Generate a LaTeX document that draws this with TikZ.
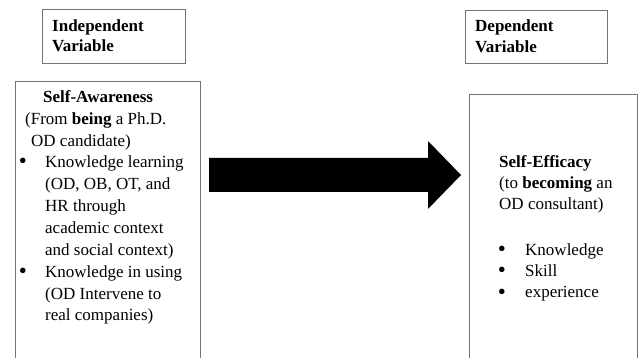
\documentclass[tikz,border=0pt]{standalone}
\usepackage{fontspec}
\setmainfont{Liberation Serif}
\definecolor{boxgray}{RGB}{115,115,115}
\begin{document}
\begin{tikzpicture}[x=1pt,y=-1pt,
  frame/.style={draw=boxgray, line width=1pt},
  label/.style={anchor=base west, inner sep=0pt, font=\fontsize{17}{21.6}\selectfont},
  dot/.style={anchor=base, inner sep=0pt, font=\fontsize{23}{21.6}\selectfont}]
\useasboundingbox (0,0) rectangle (643,358);
\clip (0,0) rectangle (643,358);

% header boxes
\node[frame, anchor=north west, minimum width=143pt, minimum height=54pt, inner sep=0pt] (indep) at (42,9) {};
\node[frame, anchor=north west, minimum width=142pt, minimum height=53pt, inner sep=0pt] (dep) at (465,10) {};
\node[label] (indepA) at (52,32) {\textbf{Independent}};
\node[label] (indepB) at (52,52) {\textbf{Variable}};
\node[label] (depA) at (475,32) {\textbf{Dependent}};
\node[label] (depB) at (475,53) {\textbf{Variable}};

% main boxes (open at the lower edge of the page)
\node[frame, anchor=north west, minimum width=185pt, minimum height=300pt, inner sep=0pt] (aware) at (15,81) {};
\node[frame, anchor=north west, minimum width=168pt, minimum height=300pt, inner sep=0pt] (efficacy) at (469,94) {};

% block arrow
\fill[black] (209,158) -- (428,158) -- (428,141) -- (461,175) -- (428,209) -- (428,192) -- (209,192) -- cycle;

% Self-Awareness text
\node[label] (aw0) at (43,102.5) {\textbf{Self-Awareness}};
\node[label] (aw1) at (25,124.5) {(From \textbf{being} a Ph.D.};
\node[label] (aw2) at (31,146.5) {OD candidate)};
\node[dot] (awb1) at (23,169) {•};
\node[label] (aw3) at (45,168) {Knowledge learning};
\node[label] (aw4) at (45,190) {(OD, OB, OT, and};
\node[label] (aw5) at (45,211.8) {HR through};
\node[label] (aw6) at (45,233.6) {academic context};
\node[label] (aw7) at (45,255.4) {and social context)};
\node[dot] (awb2) at (23,278.2) {•};
\node[label] (aw8) at (45,277.2) {Knowledge in using};
\node[label] (aw9) at (45,299) {(OD Intervene to};
\node[label] (aw10) at (45,320.8) {real companies)};

% Self-Efficacy text
\node[label] (ef0) at (499,168) {\textbf{Self-Efficacy}};
\node[label] (ef1) at (499,189) {(to \textbf{becoming} an};
\node[label] (ef2) at (499,210) {OD consultant)};
\node[dot] (efb1) at (502,257) {•};
\node[label] (ef3) at (525,256) {Knowledge};
\node[dot] (efb2) at (502,278) {•};
\node[label] (ef4) at (525,277) {Skill};
\node[dot] (efb3) at (502,299) {•};
\node[label] (ef5) at (525,298) {experience};
\end{tikzpicture}
\end{document}
